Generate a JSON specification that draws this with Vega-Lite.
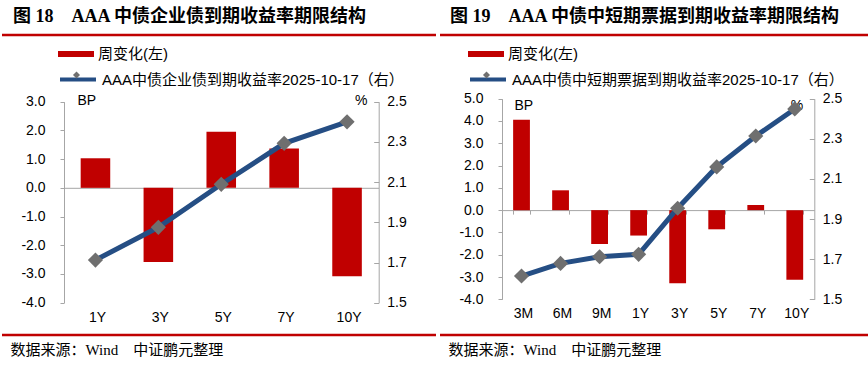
{
  "$schema": "https://vega.github.io/schema/vega-lite/v6.json",
  "background": "white",
  "padding": {"left": 0, "top": 7, "right": 0, "bottom": 0},
  "spacing": 0,
  "resolve": {"scale": {"fill": "independent", "stroke": "independent", "shape": "independent"}, "legend": {"fill": "independent", "stroke": "independent", "shape": "independent"}},
  "config": {
    "view": {"stroke": null},
    "axis": {"grid": false, "labelFont": "Liberation Sans", "labelFontSize": 14, "labelColor": "#000000", "domainColor": "#A6A6A6", "tickColor": "#A6A6A6", "titleColor": "#000000", "titleFont": "Liberation Sans", "titleFontSize": 14, "titleFontWeight": "normal"},
    "legend": {"labelFont": "Liberation Sans, Noto Sans CJK SC", "labelFontSize": 15, "labelColor": "#000000", "labelLimit": 0, "labelOffset": 4}
  },
  "datasets": {
    "fig18": [
      {"tenor": "1Y", "change": 1.03, "yield": 1.712},
      {"tenor": "3Y", "change": -2.58, "yield": 1.875},
      {"tenor": "5Y", "change": 1.95, "yield": 2.089},
      {"tenor": "7Y", "change": 1.37, "yield": 2.293},
      {"tenor": "10Y", "change": -3.08, "yield": 2.40}
    ],
    "fig19": [
      {"tenor": "3M", "change": 4.06, "yield": 1.616},
      {"tenor": "6M", "change": 0.89, "yield": 1.679},
      {"tenor": "9M", "change": -1.52, "yield": 1.712},
      {"tenor": "1Y", "change": -1.14, "yield": 1.724},
      {"tenor": "3Y", "change": -3.28, "yield": 1.954},
      {"tenor": "5Y", "change": -0.86, "yield": 2.16},
      {"tenor": "7Y", "change": 0.23, "yield": 2.314},
      {"tenor": "10Y", "change": -3.12, "yield": 2.449}
    ],
    "edges": [{"pos": 0}, {"pos": 1}]
  },
  "hconcat": [
    {
      "width": 434,
      "height": 300,
      "title": {"text": "图 18　AAA 中债企业债到期收益率期限结构", "anchor": "start", "frame": "group", "dx": 11, "offset": -10, "baseline": "bottom", "font": "Liberation Serif, Noto Sans CJK SC", "fontSize": 18, "fontWeight": "bold", "color": "#000000"},
      "layer": [
        {
          "data": {"name": "fig18"},
          "mark": {"type": "bar"},
          "encoding": {
            "x": {"field": "tenor", "type": "nominal", "scale": {"type": "band", "domain": ["1Y", "3Y", "5Y", "7Y", "10Y"], "range": [62, 376.5], "paddingInner": 0.53, "paddingOuter": 0.265},
              "axis": {"orient": "bottom", "offset": -32.3, "domain": false, "ticks": false, "labelPadding": 8, "labelOffset": 2, "labelAngle": 0,
                "title": "数据来源：Wind　中证鹏元整理", "titleX": 8, "titleY": 47, "titleAlign": "left", "titleBaseline": "middle", "titleFont": "Liberation Serif, Noto Sans CJK SC", "titleFontSize": 15}},
            "y": {"field": "change", "type": "quantitative", "scale": {"domain": [-4, 3], "range": [267.7, 66.7], "nice": false},
              "axis": {"orient": "left", "offset": -62, "values": [-4, -3, -2, -1, 0, 1, 2, 3], "labelExpr": "datum.value < 0 ? '-' + format(-datum.value, '.1f') : format(datum.value, '.1f')", "tickSize": 4, "labelPadding": 15,
                "title": "BP", "titleAngle": 0, "titleX": 13, "titleY": 65.5, "titleAlign": "left", "titleBaseline": "middle"}},
            "fill": {"datum": "周变化(左)", "scale": {"range": ["#C00000"]},
              "legend": {"orient": "none", "legendX": 56, "legendY": 1, "title": null, "symbolType": "M-1,-0.17H1V0.17H-1Z", "symbolSize": 1296, "symbolStrokeWidth": 0}}
          }
        },
        {
          "data": {"name": "fig18"},
          "encoding": {
            "x": {"field": "tenor", "type": "nominal", "scale": {"type": "band", "domain": ["1Y", "3Y", "5Y", "7Y", "10Y"], "range": [62, 376.5], "paddingInner": 0.53, "paddingOuter": 0.265},
              "axis": {"orient": "bottom", "offset": -147.2, "domain": true, "ticks": false, "labels": false, "title": null}},
            "y": {"field": "yield", "type": "quantitative", "scale": {"domain": [1.5, 2.5], "range": [267.7, 66.7], "nice": false, "zero": false},
              "axis": {"orient": "right", "offset": -57.3, "values": [1.5, 1.7, 1.9, 2.1, 2.3, 2.5], "format": ".1f", "tickSize": -5, "labelPadding": 13,
                "title": "%", "titleAngle": 0, "titleX": -11.7, "titleY": 65, "titleAlign": "right", "titleBaseline": "middle"}},
            "order": {"value": null}
          },
          "layer": [
            {
              "mark": {"type": "line", "strokeWidth": 5},
              "encoding": {
                "stroke": {"datum": "AAA中债企业债到期收益率2025-10-17（右）", "scale": {"range": ["#254E84"]},
                  "legend": {"orient": "none", "legendX": 56, "legendY": 24.5, "title": null, "symbolType": "stroke", "symbolSize": 1296, "symbolStrokeWidth": 4}}
              }
            },
            {
              "mark": {"type": "point", "filled": true, "size": 230, "color": "#6F6F6F", "opacity": 1},
              "encoding": {
                "shape": {"datum": "收益率标记", "scale": {"range": ["diamond"]},
                  "legend": {"orient": "none", "legendX": 70.5, "legendY": 36, "title": null, "symbolSize": 50, "symbolFillColor": "#6F6F6F", "symbolStrokeColor": "#6F6F6F", "symbolStrokeWidth": 0, "labelOpacity": 0, "labelFontSize": 1, "zindex": 1}}
              }
            }
          ]
        },
        {
          "data": {"name": "edges"},
          "mark": {"type": "rule", "color": "#C00000", "strokeWidth": 2.5},
          "encoding": {"y": {"field": "pos", "type": "quantitative", "scale": {"domain": [0, 1], "nice": false}, "axis": null}}
        }
      ],
      "resolve": {"scale": {"y": "independent"}, "axis": {"x": "independent", "y": "independent"}}
    },
    {
      "width": 434,
      "height": 300,
      "title": {"text": "图 19　AAA 中债中短期票据到期收益率期限结构", "anchor": "start", "frame": "group", "dx": 10, "offset": -10, "baseline": "bottom", "font": "Liberation Serif, Noto Sans CJK SC", "fontSize": 18, "fontWeight": "bold", "color": "#000000"},
      "layer": [
        {
          "data": {"name": "fig19"},
          "mark": {"type": "bar"},
          "encoding": {
            "x": {"field": "tenor", "type": "nominal", "scale": {"type": "band", "domain": ["3M", "6M", "9M", "1Y", "3Y", "5Y", "7Y", "10Y"], "range": [62, 374.3], "paddingInner": 0.57, "paddingOuter": 0.285},
              "axis": {"orient": "bottom", "offset": -35.7, "domain": false, "ticks": false, "labelPadding": 7, "labelOffset": 2, "labelAngle": 0,
                "title": "数据来源：Wind　中证鹏元整理", "titleX": 8, "titleY": 50.2, "titleAlign": "left", "titleBaseline": "middle", "titleFont": "Liberation Serif, Noto Sans CJK SC", "titleFontSize": 15}},
            "y": {"field": "change", "type": "quantitative", "scale": {"domain": [-4, 5], "range": [264.3, 63.7], "nice": false},
              "axis": {"orient": "left", "offset": -62, "values": [-4, -3, -2, -1, 0, 1, 2, 3, 4, 5], "labelExpr": "datum.value < 0 ? '-' + format(-datum.value, '.1f') : format(datum.value, '.1f')", "tickSize": 4, "labelPadding": 15,
                "title": "BP", "titleAngle": 0, "titleX": 12, "titleY": 70.8, "titleAlign": "left", "titleBaseline": "middle"}},
            "fill": {"datum": "周变化(左)", "scale": {"range": ["#C00000"]},
              "legend": {"orient": "none", "legendX": 28, "legendY": 1, "title": null, "symbolType": "M-1,-0.17H1V0.17H-1Z", "symbolSize": 1296, "symbolStrokeWidth": 0}}
          }
        },
        {
          "data": {"name": "fig19"},
          "encoding": {
            "x": {"field": "tenor", "type": "nominal", "scale": {"type": "band", "domain": ["3M", "6M", "9M", "1Y", "3Y", "5Y", "7Y", "10Y"], "range": [62, 374.3], "paddingInner": 0.57, "paddingOuter": 0.285},
              "axis": {"orient": "bottom", "offset": -124.9, "domain": true, "ticks": true, "tickBand": "extent", "tickSize": 4, "labels": false, "title": null}},
            "y": {"field": "yield", "type": "quantitative", "scale": {"domain": [1.5, 2.5], "range": [264.3, 63.7], "nice": false, "zero": false},
              "axis": {"orient": "right", "offset": -59.7, "values": [1.5, 1.7, 1.9, 2.1, 2.3, 2.5], "format": ".1f", "tickSize": -5, "labelPadding": 13,
                "title": "%", "titleAngle": 0, "titleX": -11.6, "titleY": 70, "titleAlign": "right", "titleBaseline": "middle"}},
            "order": {"value": null}
          },
          "layer": [
            {
              "mark": {"type": "line", "strokeWidth": 5},
              "encoding": {
                "stroke": {"datum": "AAA中债中短期票据到期收益率2025-10-17（右）", "scale": {"range": ["#254E84"]},
                  "legend": {"orient": "none", "legendX": 28, "legendY": 24.5, "title": null, "symbolType": "stroke", "symbolSize": 1296, "symbolStrokeWidth": 4}}
              }
            },
            {
              "mark": {"type": "point", "filled": true, "size": 230, "color": "#6F6F6F", "opacity": 1},
              "encoding": {
                "shape": {"datum": "收益率标记", "scale": {"range": ["diamond"]},
                  "legend": {"orient": "none", "legendX": 42.5, "legendY": 36, "title": null, "symbolSize": 50, "symbolFillColor": "#6F6F6F", "symbolStrokeColor": "#6F6F6F", "symbolStrokeWidth": 0, "labelOpacity": 0, "labelFontSize": 1, "zindex": 1}}
              }
            }
          ]
        },
        {
          "data": {"name": "edges"},
          "mark": {"type": "rule", "color": "#C00000", "strokeWidth": 2.5},
          "encoding": {"y": {"field": "pos", "type": "quantitative", "scale": {"domain": [0, 1], "nice": false}, "axis": null}}
        }
      ],
      "resolve": {"scale": {"y": "independent"}, "axis": {"x": "independent", "y": "independent"}}
    }
  ]
}
